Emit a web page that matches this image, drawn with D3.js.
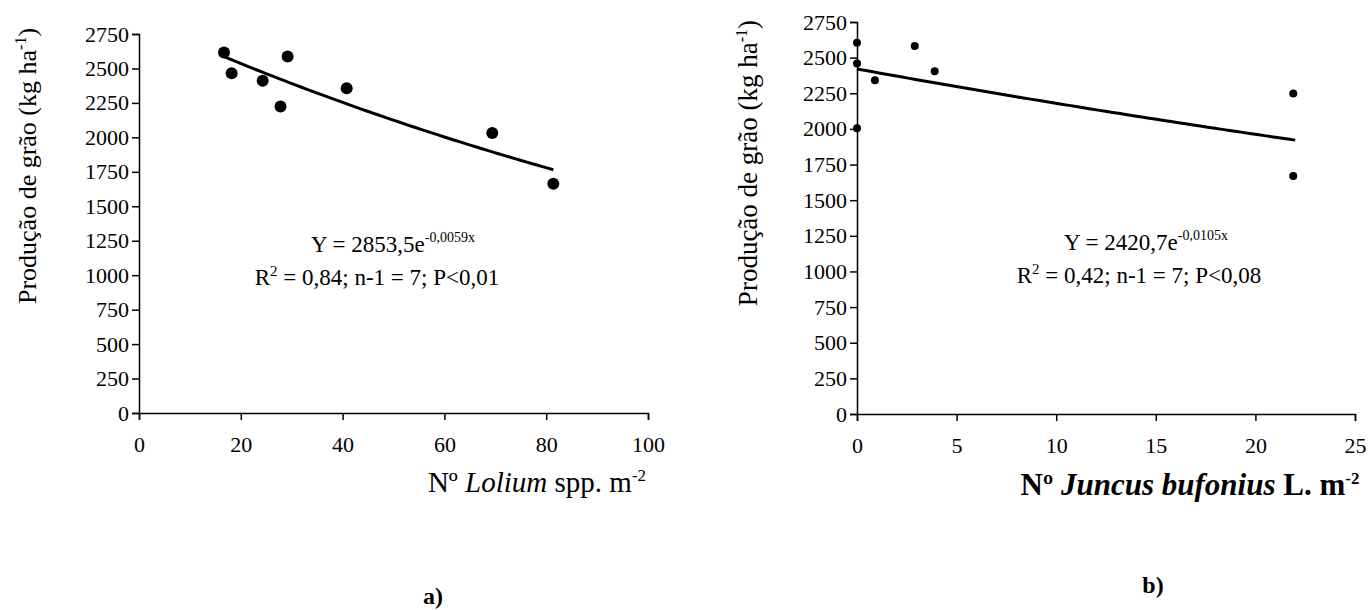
<!DOCTYPE html>
<html>
<head>
<meta charset="utf-8">
<script src="https://cdn.jsdelivr.net/npm/d3@7"></script>
<style>
  body { margin: 0; background: #fff; }
  .axis path, .axis line { stroke: #000; stroke-width: 1.5; }
</style>
</head>
<body>
<svg id="chart" width="1370" height="610"></svg>
<script>
// data
const yTicks = [0, 250, 500, 750, 1000, 1250, 1500, 1750, 2000, 2250, 2500, 2750];

const loliumX = [16.7, 18.2, 24.3, 27.8, 29.2, 40.8, 69.4, 81.4];
const loliumY = [2616, 2466, 2410, 2224, 2587, 2357, 2031, 1663];
const loliumTicks = [0, 20, 40, 60, 80, 100];

const juncusX = [0, 0, 0, 0.9, 2.9, 3.9, 21.9, 21.9];
const juncusY = [2605, 2458, 2004, 2342, 2582, 2404, 2248, 1670];
const juncusTicks = [0, 5, 10, 15, 20, 25];

// fitted model Y = a * exp(b x)
const fitA = [2853.5, 2420.7];
const fitB = [-0.0059, -0.0105];
const fitR2 = ["0,84", "0,42"];
const fitP = ["0,01", "0,08"];
const panelLabels = ["a)", "b)"];

const FONT = "'Liberation Serif', 'Times New Roman', Times, 'DejaVu Serif', serif";

const svg = d3.select("#chart")
  .style("font-family", FONT)
  .attr("font-family", FONT);

function drawPanel(p) {
  const x = d3.scaleLinear().domain(p.xDomain).range(p.xRange);
  const y = d3.scaleLinear().domain([0, 2750]).range(p.yRange);
  const g = svg.append("g");

  g.append("g")
    .attr("class", "axis")
    .attr("transform", `translate(${p.xRange[0]},0)`)
    .call(d3.axisLeft(y).tickValues(yTicks).tickSize(7).tickPadding(3).tickFormat(d => d))
    .attr("font-family", FONT)
    .call(a => a.selectAll("text").style("font-size", "22px").style("font-family", FONT));

  g.append("g")
    .attr("class", "axis")
    .attr("transform", `translate(0,${p.yRange[0]})`)
    .call(d3.axisBottom(x).tickValues(p.xTicks).tickSize(7).tickPadding(16).tickFormat(d => d))
    .attr("font-family", FONT)
    .call(a => a.selectAll("text").style("font-size", "22px").style("font-family", FONT));

  // regression curve
  const xs = d3.range(p.fitDomain[0], p.fitDomain[1] + 0.001, (p.fitDomain[1] - p.fitDomain[0]) / 60);
  const line = d3.line()
    .x(d => x(d))
    .y(d => y(p.a * Math.exp(p.b * d)));
  g.append("path")
    .datum(xs)
    .attr("d", line)
    .attr("fill", "none")
    .attr("stroke", "#000")
    .attr("stroke-width", 3);

  g.selectAll("circle.pt")
    .data(p.xs.map((v, i) => [v, p.ys[i]]))
    .enter().append("circle")
    .attr("class", "pt")
    .attr("cx", d => x(d[0]))
    .attr("cy", d => y(d[1]))
    .attr("r", p.r)
    .attr("fill", "#000");

  // y title
  const yt = g.append("text")
    .attr("transform", `translate(${p.yTitlePos[0]},${p.yTitlePos[1]}) rotate(-90)`)
    .attr("text-anchor", "middle")
    .style("font-family", FONT)
    .style("font-size", p.yTitleSize + "px");
  yt.append("tspan").text("Produção de grão (kg ha");
  yt.append("tspan").attr("dy", -10).style("font-size", "16px").text("-1");
  yt.append("tspan").attr("dy", 10).text(")");

  // x title
  const xt = g.append("text")
    .attr("x", p.xTitlePos[0]).attr("y", p.xTitlePos[1])
    .attr("text-anchor", "middle")
    .style("font-family", FONT)
    .style("font-size", p.xTitleSize + "px")
    .style("font-weight", p.bold ? "bold" : "normal");
  xt.append("tspan").text("Nº ");
  xt.append("tspan").style("font-style", "italic").text(p.species);
  xt.append("tspan").text(p.suffix);
  xt.append("tspan").attr("dy", -11).style("font-size", "17px").text("-2");

  // equation
  const e1 = g.append("text")
    .attr("x", p.eqPos[0]).attr("y", p.eqPos[1])
    .attr("text-anchor", "middle")
    .style("font-family", FONT)
    .style("font-size", "23px");
  e1.append("tspan").text("Y = " + String(p.a).replace(".", ",") + "e");
  e1.append("tspan").attr("dy", -10).style("font-size", "14px").text(String(p.b).replace(".", ",") + "x");

  const e2 = g.append("text")
    .attr("x", p.eqPos[2]).attr("y", p.eqPos[1] + 33)
    .attr("text-anchor", "middle")
    .style("font-family", FONT)
    .style("font-size", "23px");
  e2.append("tspan").text("R");
  e2.append("tspan").attr("dy", -9).style("font-size", "15px").text("2");
  e2.append("tspan").attr("dy", 9).text(` = ${p.r2}; n-1 = 7; P<${p.pv}`);

  g.append("text")
    .attr("x", p.labelPos[0]).attr("y", p.labelPos[1])
    .attr("text-anchor", "middle")
    .style("font-family", FONT)
    .style("font-size", "24px")
    .style("font-weight", "bold")
    .text(p.label);
}

drawPanel({
  xDomain: [0, 100], xRange: [139, 648], yRange: [413, 34],
  xTicks: loliumTicks, xs: loliumX, ys: loliumY, r: 6,
  a: fitA[0], b: fitB[0], fitDomain: [16.7, 81.4], r2: fitR2[0], pv: fitP[0],
  yTitlePos: [36, 166], yTitleSize: 26,
  xTitlePos: [537, 492], xTitleSize: 29, species: "Lolium", suffix: " spp. m", bold: false,
  eqPos: [393, 252, 377], label: panelLabels[0], labelPos: [433, 604]
});

drawPanel({
  xDomain: [0, 25], xRange: [857, 1355], yRange: [414, 22],
  xTicks: juncusTicks, xs: juncusX, ys: juncusY, r: 4,
  a: fitA[1], b: fitB[1], fitDomain: [0, 22], r2: fitR2[1], pv: fitP[1],
  yTitlePos: [757, 163], yTitleSize: 27,
  xTitlePos: [1190, 495], xTitleSize: 31, species: "Juncus bufonius", suffix: " L. m", bold: true,
  eqPos: [1146, 250, 1139], label: panelLabels[1], labelPos: [1153, 593]
});
</script>
</body>
</html>
